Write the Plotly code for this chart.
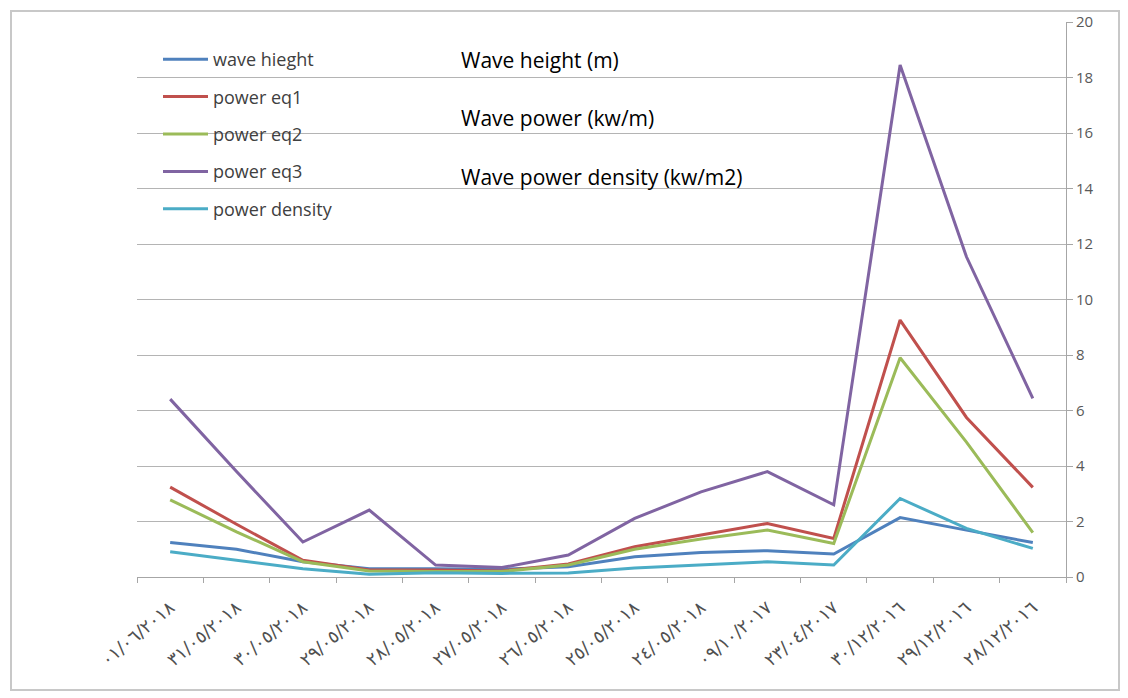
import plotly.graph_objects as go

dates = ["٠١/٠٦/٢٠١٨", "٣١/٠٥/٢٠١٨", "٣٠/٠٥/٢٠١٨", "٢٩/٠٥/٢٠١٨", "٢٨/٠٥/٢٠١٨",
         "٢٧/٠٥/٢٠١٨", "٢٦/٠٥/٢٠١٨", "٢٥/٠٥/٢٠١٨", "٢٤/٠٥/٢٠١٨", "٠٩/١٠/٢٠١٧",
         "٢٣/٠٤/٢٠١٧", "٣٠/١٢/٢٠١٦", "٢٩/١٢/٢٠١٦", "٢٨/١٢/٢٠١٦"]

wave_height = [1.24, 1.0, 0.55, 0.3, 0.3, 0.28, 0.37, 0.73, 0.88, 0.95, 0.83, 2.14, 1.69, 1.24]
power_eq1 = [3.24, 1.9, 0.6, 0.25, 0.25, 0.22, 0.47, 1.09, 1.51, 1.93, 1.39, 9.26, 5.75, 3.23]
power_eq2 = [2.78, 1.63, 0.55, 0.22, 0.2, 0.2, 0.43, 1.0, 1.37, 1.69, 1.21, 7.9, 4.86, 1.6]
power_eq3 = [6.41, 3.8, 1.26, 2.41, 0.43, 0.34, 0.79, 2.11, 3.07, 3.8, 2.6, 18.45, 11.54, 6.44]
power_density = [0.91, 0.6, 0.3, 0.1, 0.15, 0.13, 0.14, 0.32, 0.43, 0.55, 0.43, 2.83, 1.75, 1.03]

series_names = ["wave hieght", "power eq1", "power eq2", "power eq3", "power density"]
series_values = [wave_height, power_eq1, power_eq2, power_eq3, power_density]
series_colors = ["#4F81BD", "#C0504D", "#9BBB59", "#8064A2", "#4BACC6"]

y_ticks = [0, 2, 4, 6, 8, 10, 12, 14, 16, 18, 20]

notes = ["Wave height (m)", "Wave power (kw/m)", "Wave power density (kw/m2)"]

fig = go.Figure()
for name, vals, col in zip(series_names, series_values, series_colors):
    fig.add_trace(go.Scatter(
        x=dates, y=vals, name=name, mode="lines", legendgroup=name,
        line=dict(color=col, width=3),
    ))

# page body adds an 8px offset; figure is sized so it ends at the window edge
OFF = 8
W, H = 1120, 690
ml, mt = 137 - OFF, 22 - OFF
mr = W - (1066 - OFF)
mb = H - (577 - OFF)
pw, ph = W - ml - mr, H - mt - mb

def px_x(p):
    return (p - OFF - ml) / pw

def px_y(p):
    return (H - mb - (p - OFF)) / ph

fig.update_layout(
    width=W, height=H,
    margin=dict(l=ml, r=mr, t=mt, b=mb, autoexpand=False),
    paper_bgcolor="white", plot_bgcolor="white",
    showlegend=True,
    legend=dict(
        x=px_x(158), y=px_y(41), xanchor="left", yanchor="top",
        bgcolor="rgba(0,0,0,0)", tracegroupgap=11,
        font=dict(family="Open Sans", size=18, color="#404040"),
        itemwidth=45,
    ),
    xaxis=dict(
        type="category", range=[-0.5, len(dates) - 0.5],
        showgrid=False, showline=True, linecolor="#A6A6A6", linewidth=1,
        ticks="outside", tickson="boundaries", ticklen=5, tickcolor="#A6A6A6",
        tickangle=-40, ticklabelstandoff=12,
        tickfont=dict(family="DejaVu Sans", size=18, color="#505050"),
    ),
    yaxis=dict(
        side="right", range=[0, 20], tickvals=y_ticks,
        showgrid=True, gridcolor="#B4B4B4", gridwidth=1,
        showline=True, linecolor="#A6A6A6", linewidth=1,
        ticks="outside", ticklen=6, tickcolor="#A6A6A6",
        tickfont=dict(family="Open Sans", size=15, color="#595959"),
        zeroline=False,
    ),
)

for txt, yp in zip(notes, [60, 118, 177]):
    fig.add_annotation(
        x=px_x(459), y=px_y(yp), xref="paper", yref="paper",
        text=txt, showarrow=False, xanchor="left", yanchor="middle",
        font=dict(family="Open Sans", size=21, color="black"),
    )

fig.add_shape(
    type="rect", xref="paper", yref="paper",
    x0=px_x(11), x1=px_x(1119), y0=px_y(690), y1=px_y(11),
    line=dict(color="#C8C8C8", width=2), fillcolor="rgba(0,0,0,0)", layer="below",
)

fig.write_html("out.html")
